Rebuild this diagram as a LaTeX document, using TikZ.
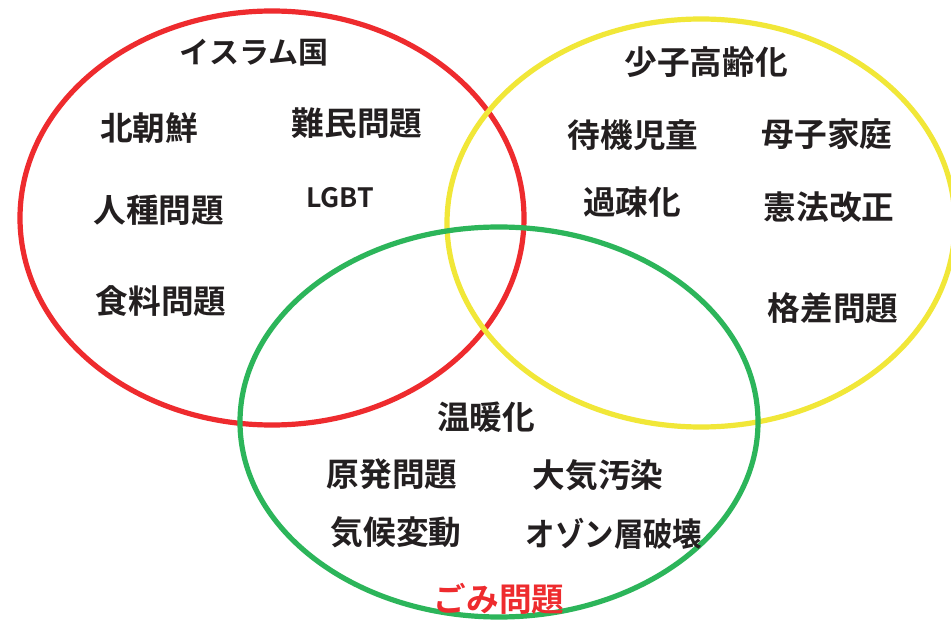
\documentclass[tikz,border=0pt]{standalone}
\usepackage{fontspec}
\newfontfamily\jp{Noto Sans CJK JP}[BoldFont={* Bold}]
\definecolor{vred}{RGB}{238,43,46}
\definecolor{vyellow}{RGB}{241,231,56}
\definecolor{vgreen}{RGB}{44,181,90}
\definecolor{ink}{RGB}{35,31,32}
\begin{document}
\begin{tikzpicture}[x=0.75pt,y=-0.75pt,
  ring/.style={line width=3.9pt},
  lbl/.style={inner sep=0pt, text=ink, font=\jp\bfseries\fontsize{24.5}{28}\selectfont},
  head/.style={lbl, font=\jp\bfseries\fontsize{22.5}{26}\selectfont},
  small/.style={lbl, font=\jp\bfseries\fontsize{20}{24}\selectfont}]
\useasboundingbox (0,0) rectangle (951,624);
\fill[white] (0,0) rectangle (951,624);
\begin{scope}
\clip (0,0) rectangle (951,624);
\draw[ring, vred] (272,218) ellipse [x radius=252, y radius=207];
\draw[ring, vyellow] (701,223) ellipse [x radius=254, y radius=204];
\draw[ring, vgreen] (499,422) ellipse [x radius=259, y radius=195];
\end{scope}
% red set
\node[head] (isis) at (254,53) {イスラム国};
\node[lbl] (nk) at (149,128) {北朝鮮};
\node[lbl] (refugee) at (357,123) {難民問題};
\node[lbl] (race) at (159,210) {人種問題};
\node[small] (lgbt) at (340,198) {LGBT};
\node[lbl] (food) at (161,301) {食料問題};
% yellow set
\node[lbl] (aging) at (706,62) {少子高齢化};
\node[lbl] (wait) at (633,135) {待機児童};
\node[lbl] (single) at (827,134) {母子家庭};
\node[lbl] (depop) at (632,202) {過疎化};
\node[lbl] (const) at (829,207) {憲法改正};
\node[lbl] (gap) at (833,308) {格差問題};
% green set
\node[lbl] (warm) at (486,417) {温暖化};
\node[lbl] (nuke) at (392,474) {原発問題};
\node[lbl] (air) at (598,475) {大気汚染};
\node[lbl] (climate) at (396,532) {気候変動};
\node[lbl] (ozone) at (614,534) {\scalebox{0.9}[1]{オゾン層破壊}};
\node[lbl, text=vred] (waste) at (499,599) {ごみ問題};
\end{tikzpicture}
\end{document}
